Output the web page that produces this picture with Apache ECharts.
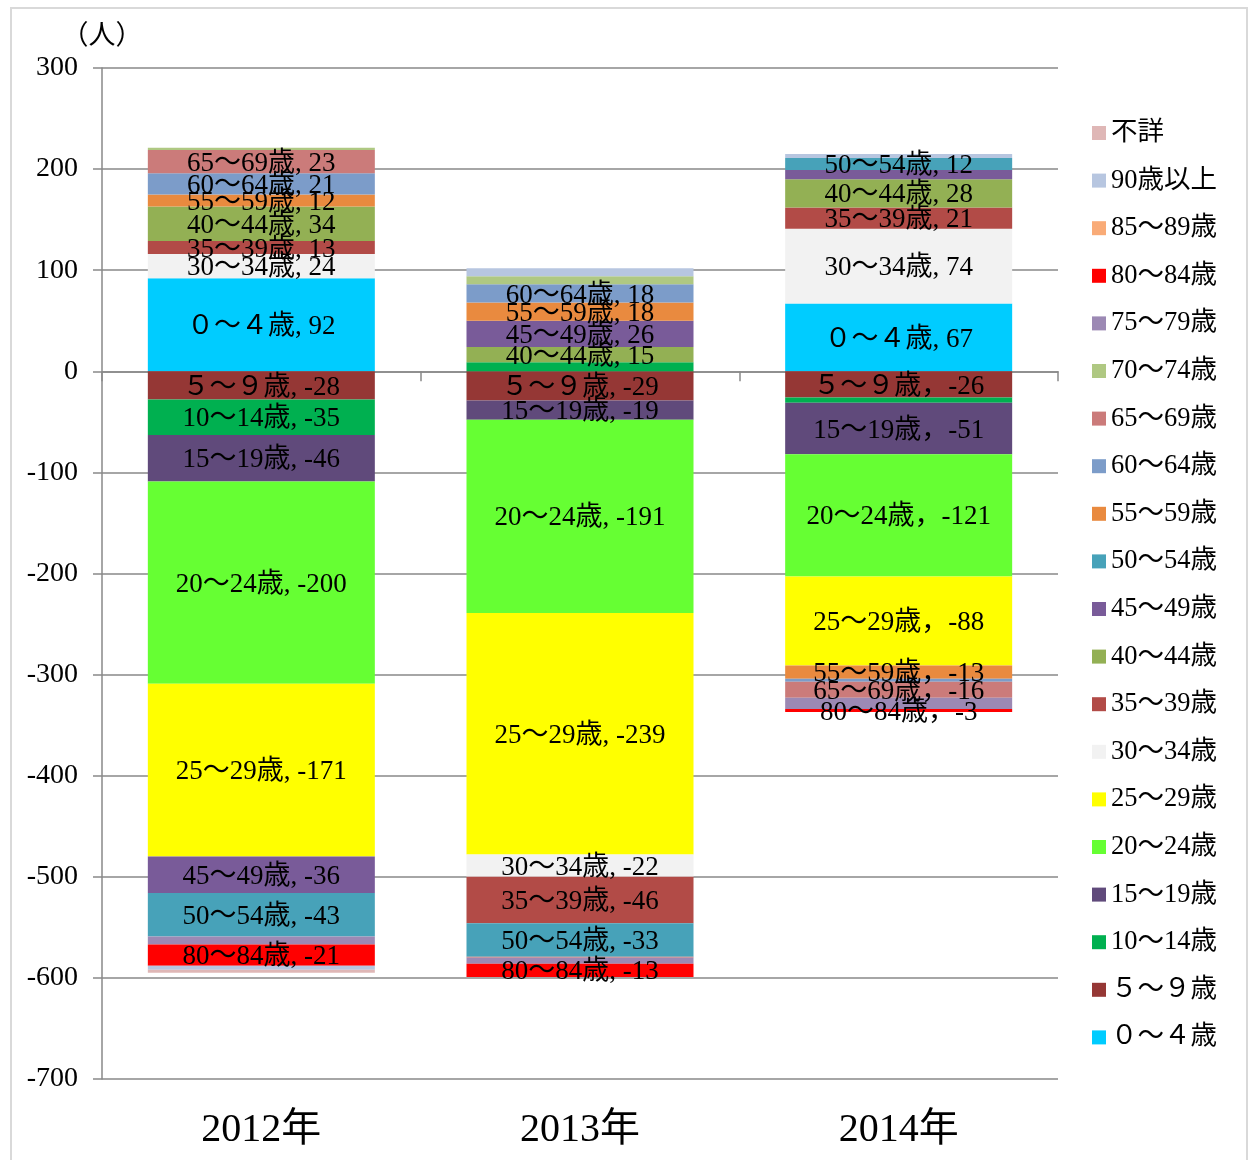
<!DOCTYPE html>
<html>
<head>
<meta charset="utf-8">
<style>
  html, body { margin: 0; padding: 0; background: #ffffff; }
  #chart { width: 1250px; height: 1160px; }
</style>
<script src="https://cdn.jsdelivr.net/npm/echarts@6/dist/echarts.min.js"></script>
</head>
<body>
<div id="chart"></div>
<script>
// Net migration by age group (人), stacked per year
const years = ['2012年', '2013年', '2014年'];

const ageGroups = [
  '０～４歳', '５～９歳', '10～14歳', '15～19歳', '20～24歳', '25～29歳',
  '30～34歳', '35～39歳', '40～44歳', '45～49歳', '50～54歳', '55～59歳',
  '60～64歳', '65～69歳', '70～74歳', '75～79歳', '80～84歳', '85～89歳',
  '90歳以上', '不詳'
];

// values per age group: [2012, 2013, 2014]
const age00_04 = [92, 0, 67];
const age05_09 = [-28, -29, -26];
const age10_14 = [-35, 9, -5];
const age15_19 = [-46, -19, -51];
const age20_24 = [-200, -191, -121];
const age25_29 = [-171, -239, -88];
const age30_34 = [24, -22, 74];
const age35_39 = [13, -46, 21];
const age40_44 = [34, 15, 28];
const age45_49 = [-36, 26, 9];
const age50_54 = [-43, -33, 12];
const age55_59 = [12, 18, -13];
const age60_64 = [21, 18, -3];
const age65_69 = [23, -1, -16];
const age70_74 = [2, 8, 0];
const age75_79 = [-8, -6, -11];
const age80_84 = [-21, -13, -3];
const age85_89 = [0, 0, 0];
const age90_up = [-4, 8, 4];
const ageUnknown = [-3, 0, 0];

const seriesValues = [
  age00_04, age05_09, age10_14, age15_19, age20_24, age25_29, age30_34,
  age35_39, age40_44, age45_49, age50_54, age55_59, age60_64, age65_69,
  age70_74, age75_79, age80_84, age85_89, age90_up, ageUnknown
];

const colors = [
  '#00CCFF', '#953735', '#00B050', '#604A7B', '#66FF33', '#FFFF00',
  '#F2F2F2', '#B24B47', '#93B054', '#795B99', '#47A2B9', '#E98A3F',
  '#7C9CC9', '#CB7B7A', '#AFC882', '#9C89B4', '#FF0000', '#F9AB77',
  '#B7C6E0', '#DFB7B6'
];

// tick labels on the value axis
const yTicks = { min: -700, max: 300, step: 100 };

const serifFont = "'Liberation Serif', 'Noto Sans CJK JP', serif";

// segments that carry a data label
function hasLabel(name, v) {
  return v !== 0 && (Math.abs(v) >= 12 || name === '80～84歳');
}

const series = ageGroups.map((name, i) => ({
  name: name,
  type: 'bar',
  stack: 'total',
  barWidth: 227,
  itemStyle: { color: colors[i] },
  label: {
    position: 'inside',
    color: '#000000',
    fontFamily: serifFont,
    fontSize: 27,
    offset: [0, 2],
    formatter: (p) => {
      const sep = (p.dataIndex === 2 && p.value < 0) ? '，' : ', ';
      return p.seriesName + sep + p.value;
    }
  },
  emphasis: { disabled: true },
  data: seriesValues[i].map(v => ({ value: v, label: { show: hasLabel(name, v) } }))
}));

const chart = echarts.init(document.getElementById('chart'), null, { renderer: 'canvas' });

chart.setOption({
  animation: false,
  backgroundColor: '#ffffff',
  color: colors,
  graphic: [{
    type: 'rect',
    shape: { x: 11, y: 8, width: 1236, height: 1160 },
    style: { fill: 'none', stroke: '#d9d9d9', lineWidth: 2 },
    silent: true
  }],
  grid: { left: 102, right: 192, top: 68, bottom: 81, containLabel: false },
  legend: {
    orient: 'vertical',
    left: 1087,
    top: 113,
    icon: 'rect',
    itemWidth: 14,
    itemHeight: 14,
    itemGap: 17.6,
    selectedMode: false,
    data: ageGroups.slice().reverse(),
    textStyle: { fontFamily: serifFont, fontSize: 26.5, color: '#000000', lineHeight: 30 }
  },
  xAxis: [
    {
      type: 'category',
      data: years,
      position: 'top',
      axisLine: { onZero: true, lineStyle: { color: '#898989', width: 1.5 } },
      axisTick: { show: true, inside: true, length: 10, lineStyle: { color: '#898989', width: 1.5 } },
      axisLabel: { show: false },
      splitLine: { show: false }
    },
    {
      type: 'category',
      data: years,
      position: 'bottom',
      axisLine: { show: false, onZero: false },
      axisTick: { show: false },
      axisLabel: { show: true, margin: 31, color: '#000000', fontFamily: serifFont, fontSize: 40 },
      splitLine: { show: false }
    }
  ],
  yAxis: {
    type: 'value',
    min: yTicks.min,
    max: yTicks.max,
    interval: yTicks.step,
    name: '（人）',
    nameLocation: 'end',
    nameGap: 18,
    nameTextStyle: { fontFamily: serifFont, fontSize: 27, color: '#000000', align: 'center' },
    axisLine: { show: true, lineStyle: { color: '#898989', width: 1.5 } },
    axisTick: { show: true, length: 9, lineStyle: { color: '#898989', width: 1.5 } },
    axisLabel: { margin: 24, color: '#000000', fontFamily: serifFont, fontSize: 28 },
    splitLine: { show: true, lineStyle: { color: '#898989', width: 1.5 } }
  },
  series: series
});
</script>
</body>
</html>
